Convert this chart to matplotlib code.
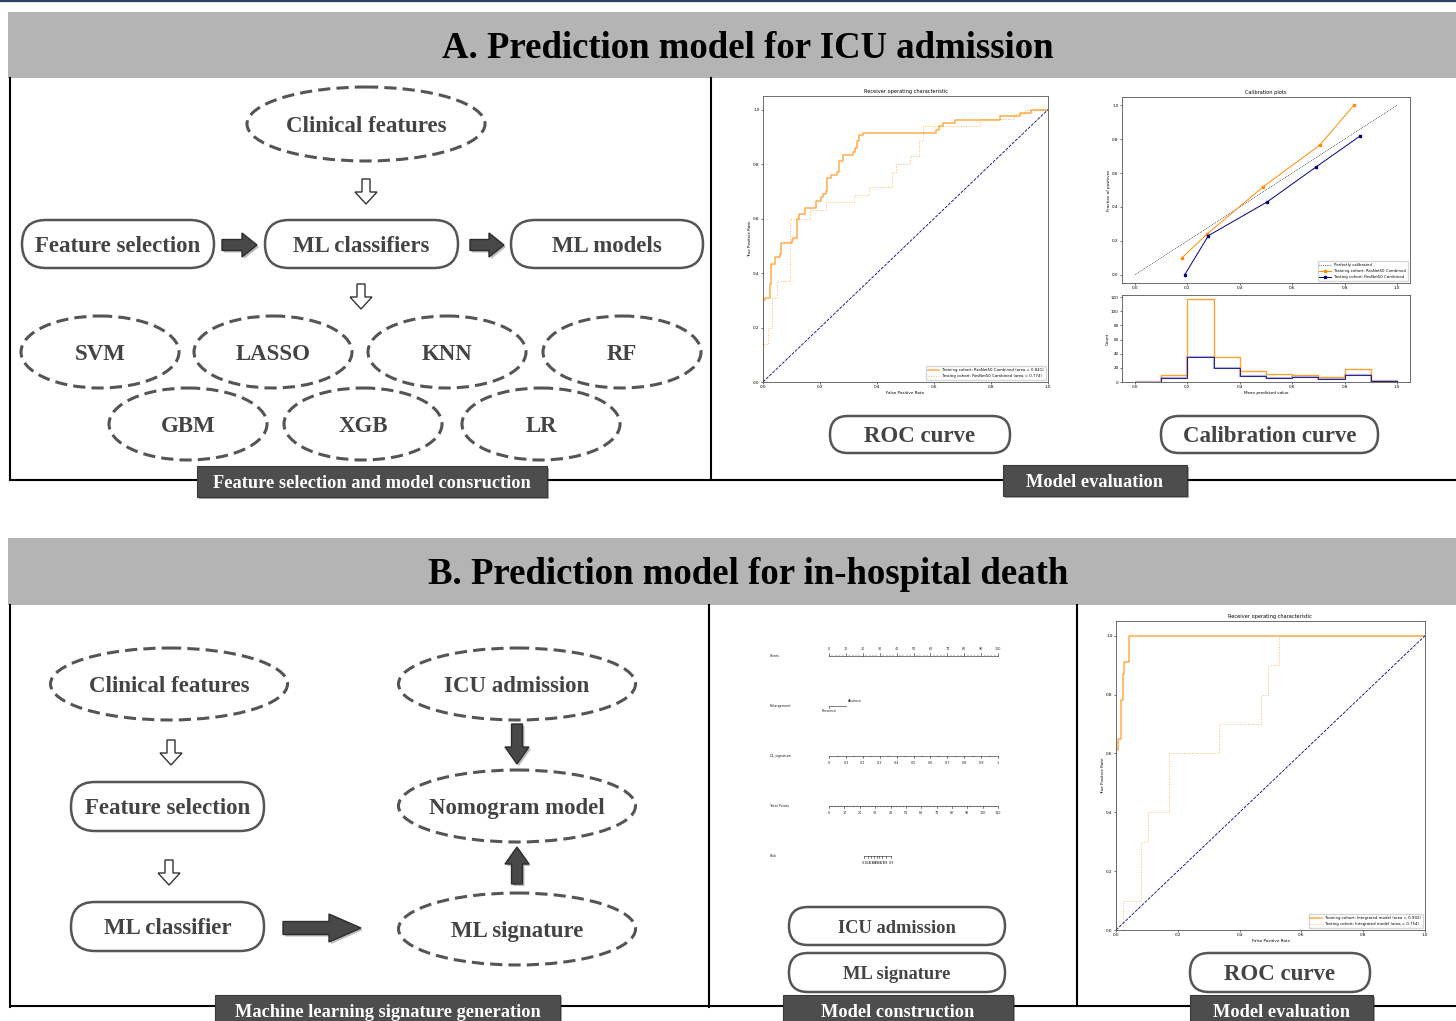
import matplotlib
matplotlib.use("Agg")
import matplotlib.pyplot as plt
from matplotlib.patches import Ellipse, FancyBboxPatch, Polygon, Rectangle
import numpy as np

W, H = 1456, 1021

# ---- data ----
title_a = "A. Prediction model for ICU admission"
title_b = "B. Prediction model for in-hospital death"

classifiers = ["SVM", "LASSO", "KNN", "RF", "GBM", "XGB", "LR"]

roc_a_train_fpr = [0, 0, 0.008, 0.023, 0.029, 0.043, 0.058, 0.063, 0.100, 0.107, 0.120, 0.127,
                   0.147, 0.186, 0.203, 0.212, 0.220, 0.225, 0.240, 0.259, 0.267, 0.282, 0.317,
                   0.323, 0.330, 0.337, 0.352, 0.606, 0.617, 0.632, 0.673, 0.830, 0.900, 0.940, 1.0]
roc_a_train_tpr = [0, 0.30, 0.31, 0.36, 0.435, 0.46, 0.47, 0.51, 0.52, 0.53, 0.60, 0.615,
                   0.64, 0.665, 0.68, 0.69, 0.70, 0.75, 0.76, 0.77, 0.81, 0.835, 0.845,
                   0.86, 0.885, 0.905, 0.915, 0.925, 0.94, 0.95, 0.962, 0.975, 0.987, 1.0, 1.0]
roc_a_test_fpr = [0, 0, 0.018, 0.031, 0.049, 0.096, 0.166, 0.220, 0.320, 0.371, 0.452, 0.467,
                  0.516, 0.548, 0.562, 0.760, 0.880, 0.918, 1.0]
roc_a_test_tpr = [0, 0.14, 0.20, 0.31, 0.37, 0.60, 0.63, 0.66, 0.685, 0.715, 0.77, 0.80,
                  0.83, 0.885, 0.94, 0.965, 0.985, 1.0, 1.0]
roc_a_labels = ["Training cohort: ResNet50 Combined (area = 0.841)",
                "Testing cohort: ResNet50 Combined (area = 0.774)"]

roc_b_train_fpr = [0, 0, 0.005, 0.015, 0.022, 0.027, 0.041, 1.0]
roc_b_train_tpr = [0, 0.61, 0.65, 0.78, 0.87, 0.91, 1.0, 1.0]
roc_b_test_fpr = [0, 0.022, 0.022, 0.080, 0.103, 0.173, 0.334, 0.470, 0.492, 0.528, 1.0]
roc_b_test_tpr = [0, 0, 0.10, 0.30, 0.40, 0.60, 0.70, 0.80, 0.90, 1.0, 1.0]
roc_b_labels = ["Training cohort: Integrated model (area = 0.992)",
                "Testing cohort: Integrated model (area = 0.754)"]

calib_train_x = [0.18, 0.275, 0.49, 0.705, 0.835]
calib_train_y = [0.10, 0.24, 0.52, 0.765, 1.0]
calib_test_x = [0.19, 0.28, 0.505, 0.69, 0.86]
calib_test_y = [0.0, 0.23, 0.43, 0.635, 0.82]

hist_bins = [0.0, 0.1, 0.2, 0.3, 0.4, 0.5, 0.6, 0.7, 0.8, 0.9, 1.0]
hist_train = [0, 10, 117, 35, 15, 12, 10, 7, 18, 1]
hist_test = [0, 5, 36, 20, 8, 6, 7, 4, 10, 2]

nomo_rows = ["Points", "Enlargement", "DL_signature", "Total Points", "Risk"]
points_ticks = [0, 10, 20, 30, 40, 50, 60, 70, 80, 90, 100]
signature_ticks = [0, 0.1, 0.2, 0.3, 0.4, 0.5, 0.6, 0.7, 0.8, 0.9, 1]
signature_labels = ["0", "0.1", "0.2", "0.3", "0.4", "0.5", "0.6", "0.7", "0.8", "0.9", "1"]
total_ticks = [0, 10, 20, 30, 40, 50, 60, 70, 80, 90, 100, 110]
risk_values = [0.1, 0.2, 0.3, 0.4, 0.5, 0.6, 0.7, 0.8, 0.9]
risk_total = [22.8, 25.5, 27.5, 29.3, 31.0, 32.7, 34.5, 36.8, 40.3]
enlarge_levels = ["Presence", "Absence"]
enlarge_points = [0, 10]

# ---- figure ----
fig = plt.figure(figsize=(W / 100, H / 100), dpi=100)
ax = fig.add_axes([0, 0, 1, 1])
ax.set_xlim(0, W)
ax.set_ylim(H, 0)
ax.axis("off")

SERIF = "Liberation Serif"
EDGE = "#555555"
TXT = "#444444"


def px_axes(l, t, r, b):
    return fig.add_axes([l / W, 1 - b / H, (r - l) / W, (b - t) / H])


def band(y0, y1, text):
    ax.add_patch(Rectangle((8, y0), W - 8, y1 - y0, fc="#b4b4b4", ec="none", zorder=1))
    ax.text(748, (y0 + y1) / 2 + 3, text, family=SERIF, weight="bold", fontsize=26.5,
            ha="center", va="center", color="black", zorder=2)


def rbox(x0, y0, x1, y1, text, fs=16.5):
    ax.add_patch(FancyBboxPatch((x0, y0), x1 - x0, y1 - y0,
                                boxstyle="round,pad=0,rounding_size=%d" % ((y1 - y0) / 2),
                                fc="white", ec=EDGE, lw=1.8, zorder=3))
    ax.text((x0 + x1) / 2, (y0 + y1) / 2 + 2, text, family=SERIF, weight="bold", fontsize=fs,
            ha="center", va="center", color=TXT, zorder=4)


def dellipse(cx, cy, w, h, text, fs=16.5):
    ax.add_patch(Ellipse((cx, cy), w, h, fill=False, ec=EDGE, lw=2.2,
                         ls=(0, (4, 2)), zorder=3))
    ax.text(cx, cy + 2, text, family=SERIF, weight="bold", fontsize=fs,
            ha="center", va="center", color=TXT, zorder=4)


def label_box(x0, y0, x1, y1, text):
    ax.add_patch(Rectangle((x0 + 2, y0 + 2), x1 - x0, y1 - y0, fc="#222222", ec="none",
                           alpha=0.4, zorder=5))
    ax.add_patch(Rectangle((x0, y0), x1 - x0, y1 - y0, fc="#4d4d4d", ec="#3a3a3a",
                           lw=0.8, zorder=6))
    ax.text((x0 + x1) / 2, (y0 + y1) / 2 + 2, text, family=SERIF, weight="bold",
            fontsize=13.2, ha="center", va="center", color="white", zorder=7)


def arrow(x0, y0, x1, y1, sw, hw, hl, fc, ec):
    d = np.array([x1 - x0, y1 - y0], float)
    L = np.hypot(*d)
    u = d / L
    n = np.array([-u[1], u[0]])
    p0 = np.array([x0, y0], float)
    b = p0 + u * (L - hl)
    pts = [p0 + n * sw / 2, b + n * sw / 2, b + n * hw / 2, p0 + u * L,
           b - n * hw / 2, b - n * sw / 2, p0 - n * sw / 2]
    ax.add_patch(Polygon(pts, closed=True, fc=fc, ec=ec, lw=1.0, zorder=3))


def hollow(x, y0, y1):
    arrow(x, y0, x, y1, 8, 22, 12, "white", "#333333")


def dark(x0, y0, x1, y1, sw, hw, hl):
    # soft shadow then the arrow
    arrow(x0 + 2, y0 + 2, x1 + 2, y1 + 2, sw, hw, hl, "#bbbbbb", "none")
    arrow(x0, y0, x1, y1, sw, hw, hl, "#484848", "#2e2e2e")


# top rule
ax.plot([0, W], [1, 1], color="#2f3f63", lw=1.6, zorder=2)

# ---- panel A ----
band(12, 78, title_a)
ax.plot([10, 10], [78, 480], color="black", lw=1.5, zorder=2)
ax.plot([711, 711], [78, 480], color="black", lw=1.5, zorder=2)
ax.plot([10, W], [480, 480], color="black", lw=1.5, zorder=2)

dellipse(366, 124, 238, 74, "Clinical features")
hollow(366, 179, 204)
rbox(22, 220, 214, 268, "Feature selection")
rbox(265, 220, 458, 268, "ML classifiers")
rbox(511, 220, 703, 268, "ML models")
dark(222, 245, 257, 245, 11, 24, 15)
dark(470, 245, 504, 245, 11, 24, 15)
hollow(361, 284, 309)

row1_x = [100, 273, 447, 622]
row2_x = [188, 363, 541]
for name, cx in zip(classifiers[:4], row1_x):
    dellipse(cx, 352, 158, 72, name)
for name, cx in zip(classifiers[4:], row2_x):
    dellipse(cx, 424, 158, 72, name)

label_box(197, 466, 547, 497, "Feature selection and model consruction")
rbox(830, 416, 1010, 453, "ROC curve")
rbox(1161, 416, 1378, 453, "Calibration curve")
label_box(1003, 465, 1187, 496, "Model evaluation")

# ---- panel B ----
band(538, 605, title_b)
ax.plot([10, 10], [605, 1007], color="black", lw=1.5, zorder=2)
ax.plot([709, 709], [605, 1007], color="black", lw=1.5, zorder=2)
ax.plot([1077, 1077], [605, 1006], color="black", lw=1.5, zorder=2)
ax.plot([10, W], [1006, 1006], color="black", lw=1.5, zorder=2)

dellipse(169, 684, 237, 72, "Clinical features")
hollow(171, 740, 765)
rbox(71, 782, 264, 831, "Feature selection")
hollow(169, 860, 885)
rbox(71, 902, 264, 951, "ML classifier")
dark(283, 928, 361, 928, 13, 28, 32)

dellipse(517, 684, 237, 72, "ICU admission")
dark(517, 724, 517, 764, 11, 24, 17)
dellipse(517, 806, 237, 72, "Nomogram model")
dark(517, 884, 517, 847, 11, 24, 17)
dellipse(517, 929, 237, 72, "ML signature")

rbox(789, 907, 1005, 945, "ICU admission", fs=13.3)
rbox(789, 953, 1005, 992, "ML signature", fs=13.3)
rbox(1190, 953, 1370, 992, "ROC curve")

label_box(215, 995, 560, 1025, "Machine learning signature generation")
label_box(783, 995, 1013, 1025, "Model construction")
label_box(1190, 995, 1373, 1025, "Model evaluation")

# ---- small charts ----
TS = 3.0


def style(a):
    a.tick_params(labelsize=TS, length=1.5, width=0.4, pad=1)
    for s in a.spines.values():
        s.set_linewidth(0.6)
        s.set_color("#555555")


def roc(a, trf, trt, tef, tet, labels):
    a.step(trf, trt, where="post", color="darkorange", lw=1.1, alpha=0.7, label=labels[0])
    a.step(tef, tet, where="post", color="darkorange", lw=0.7, ls=":", alpha=0.6, label=labels[1])
    a.plot([0, 1], [0, 1], color="navy", lw=0.6, ls="--")
    a.set_xlim(0, 1)
    a.set_ylim(0, 1.05)
    a.set_xlabel("False Positive Rate", fontsize=TS, labelpad=1)
    a.set_ylabel("True Positive Rate", fontsize=TS, labelpad=1)
    a.set_title("Receiver operating characteristic", fontsize=3.6, pad=2)
    a.legend(loc="lower right", fontsize=2.8, handlelength=3, borderpad=0.5)
    style(a)


ra = px_axes(763, 96, 1048, 382)
roc(ra, roc_a_train_fpr, roc_a_train_tpr, roc_a_test_fpr, roc_a_test_tpr, roc_a_labels)

rb = px_axes(1116, 621, 1425, 930)
roc(rb, roc_b_train_fpr, roc_b_train_tpr, roc_b_test_fpr, roc_b_test_tpr, roc_b_labels)

ca = px_axes(1122, 97, 1410, 283)
ca.plot([0, 1], [0, 1], "k:", lw=0.5, label="Perfectly calibrated")
ca.plot(calib_train_x, calib_train_y, "s-", color="darkorange", lw=0.7, ms=1.6,
        label="Training cohort: ResNet50 Combined")
ca.plot(calib_test_x, calib_test_y, "s-", color="navy", lw=0.7, ms=1.6,
        label="Testing cohort: ResNet50 Combined")
ca.set_xlim(-0.05, 1.05)
ca.set_ylim(-0.05, 1.05)
ca.set_ylabel("Fraction of positives", fontsize=TS, labelpad=1)
ca.set_title("Calibration plots", fontsize=3.6, pad=2)
ca.legend(loc="lower right", fontsize=2.8, handlelength=3, borderpad=0.5)
style(ca)

ha = px_axes(1122, 295, 1410, 382)
ha.stairs(hist_test, hist_bins, color="#8080c8", lw=1.6, alpha=0.6)
ha.stairs(hist_train, hist_bins, color="darkorange", lw=1.0, alpha=0.8)
ha.stairs(hist_test, hist_bins, color="navy", lw=0.7, alpha=0.8)
ha.set_xlim(-0.05, 1.05)
ha.set_ylim(0, 123)
ha.set_yticks([0, 20, 40, 60, 80, 100, 120])
ha.set_xlabel("Mean predicted value", fontsize=TS, labelpad=1)
ha.set_ylabel("Count", fontsize=TS, labelpad=1)
style(ha)

# ---- nomogram ----
nm = px_axes(765, 640, 1005, 870)
nm.set_xlim(-37.9, 104.1)
nm.set_ylim(4.28, -0.32)
nm.axis("off")
NF = 2.4
LW = 0.45

for i, name in enumerate(nomo_rows):
    nm.text(-35, i, name, fontsize=NF, ha="left", va="center", color="#222222")


def scale(row, pos, labels, up, minor=None):
    s = -1 if up else 1
    nm.plot([min(pos), max(pos)], [row, row], color="#333333", lw=LW)
    for p, t in zip(pos, labels):
        nm.plot([p, p], [row, row + s * 0.05], color="#333333", lw=LW)
        nm.text(p, row + s * 0.13, t, fontsize=NF, ha="center", va="center", color="#222222")
    if minor is not None:
        for p in minor:
            nm.plot([p, p], [row, row + s * 0.025], color="#333333", lw=LW * 0.7)


scale(0, points_ticks, [str(v) for v in points_ticks], True,
      minor=[p + d for p in points_ticks[:-1] for d in (2, 4, 6, 8)])

nm.plot(enlarge_points, [1, 1], color="#333333", lw=LW)
nm.plot([enlarge_points[0]] * 2, [1, 1.05], color="#333333", lw=LW)
nm.text(enlarge_points[1] + 1, 0.9, enlarge_levels[1], fontsize=NF, ha="left", va="center",
        color="#222222")
nm.text(enlarge_points[0], 1.11, enlarge_levels[0], fontsize=NF, ha="center", va="center",
        color="#222222")

scale(2, [v * 100 for v in signature_ticks], signature_labels, False,
      minor=[(v + 0.05) * 100 for v in signature_ticks[:-1]])
scale(3, [v * 100 / 110 for v in total_ticks], [str(v) for v in total_ticks], False,
      minor=[(v + d) * 100 / 110 for v in total_ticks[:-1] for d in (2, 4, 6, 8)])
scale(4, [v * 100 / 110 for v in risk_total], [str(v) for v in risk_values], False)

fig.savefig("out.png", dpi=100)
